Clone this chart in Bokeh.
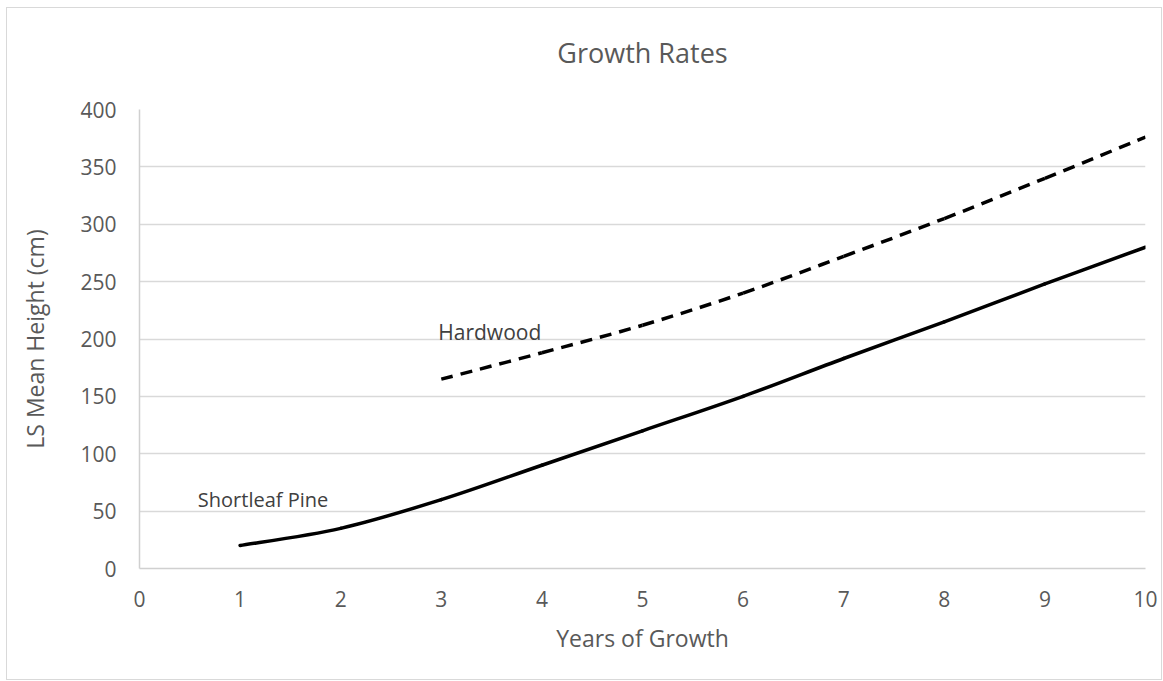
from bokeh.plotting import figure
from bokeh.models import Range1d, FixedTicker, Label, Title
from bokeh.embed import file_html
from bokeh.resources import INLINE

years_pine = [1, 2, 3, 4, 5, 6, 7, 8, 9, 10]
height_pine = [20, 35, 60, 90, 120, 150, 183, 215, 248, 280]
years_hard = [3, 4, 5, 6, 7, 8, 9, 10]
height_hard = [165, 188, 212, 240, 272, 305, 340, 376]
x_ticks = [0, 1, 2, 3, 4, 5, 6, 7, 8, 9, 10]
y_ticks = [0, 50, 100, 150, 200, 250, 300, 350, 400]
chart_title = "Growth Rates"

FONT = "Open Sans"
GREY = "#595959"


def smooth_segments(xs, ys):
    """Excel-style smoothed line: cubic Bezier segments between data points."""
    n = len(xs)
    x0, y0, x1, y1, cx0, cy0, cx1, cy1 = [], [], [], [], [], [], [], []
    for i in range(n - 1):
        xp, yp = (xs[i - 1], ys[i - 1]) if i > 0 else (xs[i], ys[i])
        xn, yn = (xs[i + 2], ys[i + 2]) if i + 2 < n else (xs[i + 1], ys[i + 1])
        x0.append(xs[i]); y0.append(ys[i])
        x1.append(xs[i + 1]); y1.append(ys[i + 1])
        cx0.append(xs[i] + (xs[i + 1] - xp) / 6); cy0.append(ys[i] + (ys[i + 1] - yp) / 6)
        cx1.append(xs[i + 1] - (xn - xs[i]) / 6); cy1.append(ys[i + 1] - (yn - ys[i]) / 6)
    return dict(x0=x0, y0=y0, x1=x1, y1=y1, cx0=cx0, cy0=cy0, cx1=cx1, cy1=cy1)


p = figure(width=1156, height=673, output_backend="svg", toolbar_location=None,
           x_range=Range1d(0, 10), y_range=Range1d(0, 400),
           min_border_left=132, min_border_right=18, min_border_top=101, min_border_bottom=113)
p.margin = (7, 0, 0, 6)
p.styles = {"border": "1px solid #d9d9d9"}
p.outline_line_color = None
p.background_fill_color = "white"
p.border_fill_color = "white"
p.title.text = ""

# invisible spacer between the plot area and the title, then the title itself
p.add_layout(Title(text=" ", text_font_size="1px", standoff=36, text_color="white"), "above")
p.add_layout(Title(text=chart_title, align="center", vertical_align="bottom", text_font=FONT,
                   text_font_size="27px", text_font_style="normal", text_color=GREY,
                   offset=0, standoff=0), "above")

p.xaxis.ticker = FixedTicker(ticks=x_ticks)
p.yaxis.ticker = FixedTicker(ticks=y_ticks)
for ax in (p.xaxis, p.yaxis):
    ax.major_tick_line_color = None
    ax.minor_tick_line_color = None
    ax.axis_line_color = "#d0d0d0"
    ax.axis_line_width = 1.5
    ax.major_label_text_font = FONT
    ax.major_label_text_font_size = "21px"
    ax.major_label_text_color = GREY
    ax.axis_label_text_font = FONT
    ax.axis_label_text_font_size = "23px"
    ax.axis_label_text_font_style = "normal"
    ax.axis_label_text_color = GREY

p.xaxis.axis_label = "Years of Growth"
p.yaxis.axis_label = "LS Mean Height (cm)"
p.xaxis.major_label_standoff = 16
p.yaxis.major_label_standoff = 17
p.xaxis.axis_label_standoff = 12
p.yaxis.axis_label_standoff = 26

p.xgrid.grid_line_color = None
p.ygrid.grid_line_color = "#d9d9d9"
p.ygrid.grid_line_width = 1.5

pine = smooth_segments(years_pine, height_pine)
hard = smooth_segments(years_hard, height_hard)
p.bezier(source=pine, x0="x0", y0="y0", x1="x1", y1="y1", cx0="cx0", cy0="cy0", cx1="cx1", cy1="cy1",
         line_color="black", line_width=3.5, line_cap="round")
p.bezier(source=hard, x0="x0", y0="y0", x1="x1", y1="y1", cx0="cx0", cy0="cy0", cx1="cx1", cy1="cy1",
         line_color="black", line_width=3.5, line_dash="12 8")

p.add_layout(Label(x=0.58, y=60, text="Shortleaf Pine", text_font=FONT, text_font_size="20px",
                   text_color="#404040", text_baseline="middle"))
p.add_layout(Label(x=2.97, y=206, text="Hardwood", text_font=FONT, text_font_size="21px",
                   text_color="#404040", text_baseline="middle"))

open("out.html", "w").write(file_html(p, INLINE))
